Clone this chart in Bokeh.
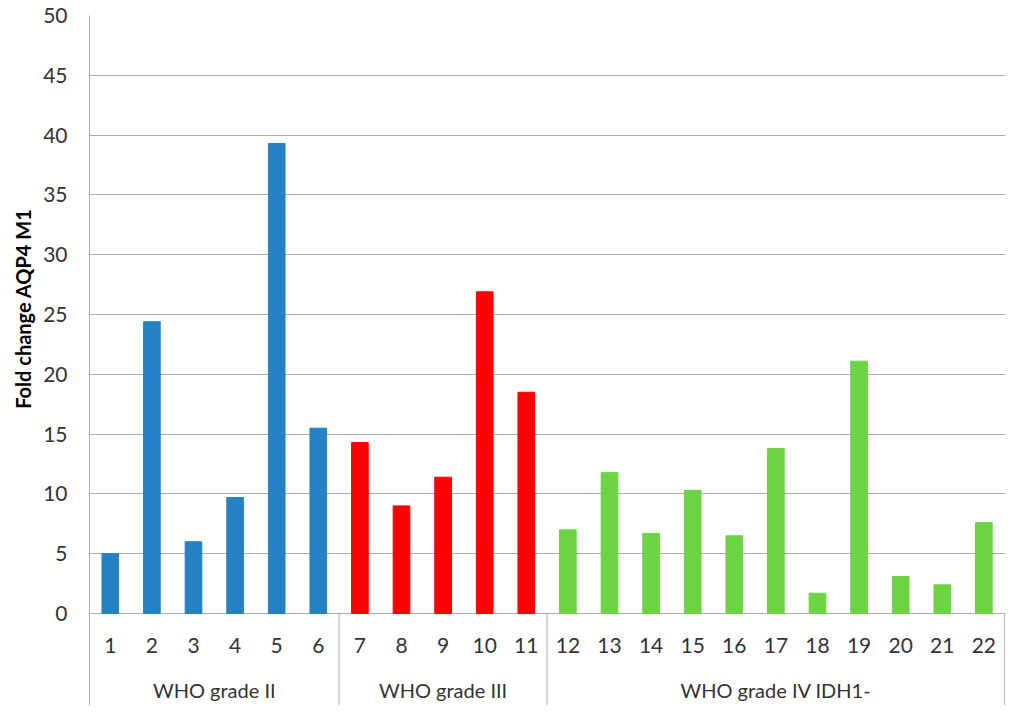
from bokeh.plotting import figure
from bokeh.models import ColumnDataSource, Range1d, FixedTicker, Title
from bokeh.embed import file_html
from bokeh.resources import INLINE
from bokeh.core.properties import value

# ---- data ----
samples = [str(i) for i in range(1, 23)]
fold_change = [5.0, 24.4, 6.0, 9.7, 39.3, 15.5,
               14.3, 9.0, 11.4, 26.9, 18.5,
               7.0, 11.8, 6.7, 10.3, 6.5, 13.8, 1.7, 21.1, 3.1, 2.4, 7.6]
group_names = ["WHO grade II", "WHO grade III", "WHO grade IV IDH1-"]
group_sizes = [6, 5, 11]
group_colors = ["#2381C4", "#FF0000", "#6CD443"]
y_ticks = list(range(0, 51, 5))
y_title = "Fold change AQP4 M1"

FONT = "Lato"
GRID = "#ADADAD"
TXT = "#333333"

xs = list(range(1, len(samples) + 1))
colors = []
for c, n in zip(group_colors, group_sizes):
    colors += [c] * n

src = ColumnDataSource(dict(x=xs, top=fold_change, color=colors, label=samples))

Y_BOTTOM = -7.69
p = figure(width=1010, height=710, output_backend="svg", toolbar_location=None,
           x_range=Range1d(0.5, 22.52), y_range=Range1d(Y_BOTTOM, 50),
           x_axis_location=None, min_border_left=89, min_border_right=5,
           min_border_top=15, min_border_bottom=5)
p.outline_line_color = None
p.xgrid.visible = False
p.ygrid.ticker = FixedTicker(ticks=y_ticks)
p.ygrid.grid_line_color = GRID
p.yaxis.ticker = FixedTicker(ticks=y_ticks)
p.yaxis.axis_line_color = GRID
p.yaxis.major_tick_line_color = None
p.yaxis.minor_tick_line_color = None
p.yaxis.major_tick_out = 0
p.yaxis.major_tick_in = 0
p.yaxis.minor_tick_out = 0
p.yaxis.major_label_standoff = 22
p.yaxis.major_label_text_font = FONT
p.yaxis.major_label_text_font_size = "21px"
p.yaxis.major_label_text_color = TXT

p.vbar(x="x", top="top", bottom=0, width=0.4, color="color", source=src)

# category numbers under the axis
p.text(x="x", y=-2.68, text="label", source=src, text_align="center",
       text_baseline="middle", text_font=value(FONT), text_font_size="21px",
       text_color=TXT)

# group separators and labels
bounds = []
centers = []
start = 0.5
for n in group_sizes:
    end = start + n
    bounds.append(end)
    centers.append((start + end) / 2)
    start = end
p.segment(x0=bounds, x1=bounds, y0=0, y1=Y_BOTTOM, line_color=GRID, line_width=1)
p.text(x=centers, y=[-6.4] * len(centers), text=group_names, text_align="center",
       text_baseline="middle", text_font=value(FONT), text_font_size="20px",
       text_color=TXT)

p.add_layout(Title(text=y_title, align="right", vertical_align="middle",
                   offset=193, standoff=10,
                   text_font=FONT, text_font_size="20px", text_font_style="bold",
                   text_color="#000000"), "left")

open("out.html", "w").write(file_html(p, INLINE))
